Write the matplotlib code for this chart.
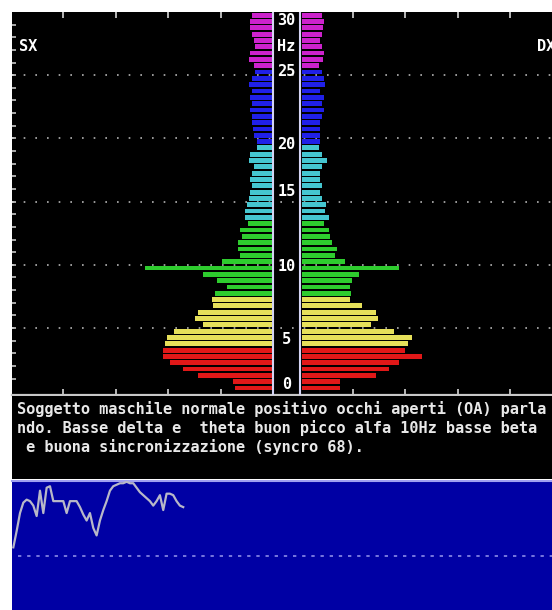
import matplotlib
matplotlib.use("Agg")
import matplotlib.pyplot as plt
import numpy as np

W, H = 552, 610

# spettro EEG: bin da 0.5 Hz da 0 a 30 Hz, dal basso verso l'alto
BIN_HZ = 0.5
band_bins = [7, 8, 12, 12, 12, 9]          # delta, theta, alfa, beta1, beta2, gamma
band_colors = ["#e01818", "#e6e05a", "#2ecc2e", "#45c6d0", "#2020e8", "#cc22cc"]

# potenza emisfero sinistro (SX)
sx_power = [37, 39, 74, 89, 102, 109, 109,
            107, 105, 98, 69, 77, 74, 59, 60,
            57, 45, 55, 69, 127, 50, 32, 34, 34, 30, 32, 24,
            27, 27, 25, 23, 22, 20, 22, 20, 18, 23, 22, 15,
            15, 18, 19, 20, 20, 22, 20, 22, 20, 23, 20, 17,
            18, 23, 22, 17, 18, 20, 22, 22, 20]
# potenza emisfero destro (DX)
dx_power = [38, 38, 74, 87, 97, 120, 103,
            106, 110, 92, 69, 76, 74, 60, 48,
            49, 48, 50, 57, 97, 43, 33, 35, 30, 28, 27, 22,
            27, 23, 24, 20, 18, 20, 18, 18, 20, 25, 20, 17,
            18, 18, 18, 18, 20, 22, 20, 22, 18, 23, 22, 20,
            17, 21, 22, 20, 18, 20, 21, 22, 20]

grid_hz = [5, 10, 15, 20, 25]
center_labels = ["30", "Hz", "25", "20", "15", "10", "5", "0"]
center_label_pos = [29.3, 27.3, 25.3, 19.5, 15.8, 9.9, 4.1, 0.5]

# andamento sincronizzazione (pannello blu)
syncro = [56, 67, 79, 86, 88, 87, 84, 77, 94, 79, 96, 97, 87, 87, 87, 87,
          79, 87, 87, 87, 83, 78, 74, 79, 69, 64, 74, 81, 87, 94, 97, 98,
          99, 99, 100, 99, 99, 96, 93, 91, 89, 87, 84, 87, 91, 81, 92, 92,
          91, 87, 84, 83]
syncro_ref = 50

report = ["Soggetto maschile normale positivo occhi aperti (OA) parla",
          "ndo. Basse delta e  theta buon picco alfa 10Hz basse beta",
          " e buona sincronizzazione (syncro 68)."]

MONO = "DejaVu Sans Mono"


def rect(x0, y0, x1, y1):
    return [x0 / W, 1 - y1 / H, (x1 - x0) / W, (y1 - y0) / H]


fig = plt.figure(figsize=(W / 100, H / 100), dpi=100, facecolor="white")

# --- spettro a farfalla ---
ax = fig.add_axes(rect(12, 12, 561, 395))
ax.set_facecolor("black")
colors = np.repeat(band_colors, band_bins)
freq = np.arange(len(sx_power)) * BIN_HZ + BIN_HZ / 2
ax.barh(freq, -np.array(sx_power), left=-15, height=0.38, color=colors, zorder=3)
ax.barh(freq, dx_power, left=15, height=0.38, color=colors, zorder=3)
for hz in grid_hz:
    ax.axhline(hz, color="#b4b4b4", lw=1.2, ls=(0, (1, 6)), zorder=1)
for xc in (-13.5, 13.5):
    ax.axvline(xc, color="#d4d4f4", lw=1.5, zorder=4)
for lab, pos in zip(center_labels, center_label_pos):
    ax.text(0, pos, lab, ha="center", va="center", color="white",
            fontsize=11, family=MONO, weight="bold", zorder=5)
ax.text(-267, 27.3, "SX", ha="left", va="center", color="white",
        fontsize=11, family=MONO, weight="bold")
ax.text(251, 27.3, "DX", ha="left", va="center", color="white",
        fontsize=11, family=MONO, weight="bold")
ax.set_xlim(-274.5, 274.5)
ax.set_ylim(-0.3, 30)
xt = [s * (13.5 + 52.5 * k) for s in (-1, 1) for k in range(1, 5)]
ax.set_xticks(xt)
ax.set_yticks(np.arange(1, 30))
ax.tick_params(axis="x", which="both", direction="in", top=True, bottom=True,
               length=4.5, width=1.2, color="#d8d8d8", labelbottom=False)
ax.tick_params(axis="y", which="both", direction="in", left=True, right=False,
               length=3, width=1.1, color="#d8d8d8", labelleft=False)
for s in ["top", "left", "right"]:
    ax.spines[s].set_visible(False)
ax.spines["bottom"].set_color("#c8c8c8")
ax.spines["bottom"].set_linewidth(1.6)

# --- referto ---
tx = fig.add_axes(rect(12, 396, 561, 479))
tx.set_facecolor("black")
tx.set_xticks([]); tx.set_yticks([])
for s in tx.spines.values():
    s.set_visible(False)
for line, yy in zip(report, [409, 428, 447]):
    fig.text(17 / W, 1 - yy / H, line, ha="left", va="center", color="#e8e8e8",
             fontsize=11, family=MONO, weight="bold")

# --- pannello sincronizzazione ---
bx = fig.add_axes(rect(12, 481, 561, 610))
bx.set_facecolor("#0000a4")
t = np.arange(len(syncro))
bx.plot(t, syncro, color="#b8b8c8", lw=1.6, zorder=3)
bx.hlines(syncro_ref, 1.4, 170, color="#8c8ce8", lw=1.2, ls=(0, (2, 3.5)), zorder=2)
bx.set_xlim(-0.4, 164.4)
bx.set_ylim(14, 100.5)
bx.set_xticks([]); bx.set_yticks([])
for s in ["bottom", "left", "right"]:
    bx.spines[s].set_visible(False)
bx.spines["top"].set_color("#a0a0f0")
bx.spines["top"].set_linewidth(1.5)

fig.savefig("out.png", dpi=100, facecolor="white")
plt.close(fig)
